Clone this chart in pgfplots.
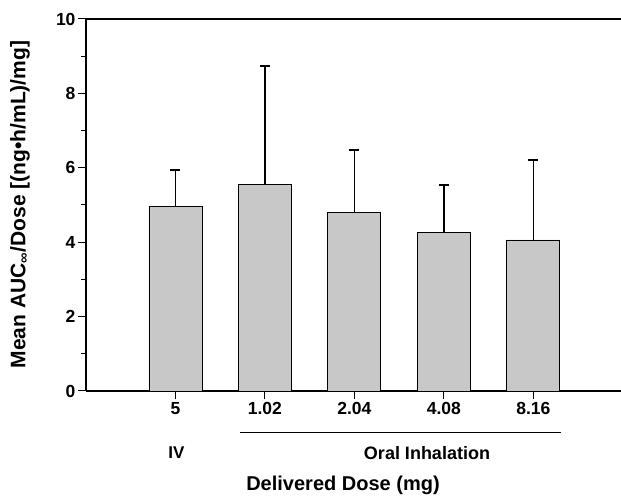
\documentclass[border=0pt]{standalone}
\usepackage{fontspec}
\setmainfont{Liberation Sans}
\usepackage{pgfplots}
\pgfplotsset{compat=1.18}
\definecolor{bargray}{RGB}{200,200,200}
\begin{document}
\begin{tikzpicture}[x=1pt,y=1pt]
\useasboundingbox (-86,-106) rectangle (535,391);
\begin{axis}[
  at={(0,0)}, anchor=south west,
  scale only axis, width=535pt, height=372pt,
  xmin=-1, xmax=4.98, ymin=0, ymax=10,
  axis x line*=box, axis y line*=left,
  xtick={0,1,2,3,4}, xticklabels={5,1.02,2.04,4.08,8.16},
  ytick={0,2,4,6,8,10}, minor ytick={1,3,5,7,9},
  tick align=outside, xtick pos=left, ytick pos=left,
  major tick length=8pt, minor tick length=5pt,
  tick style={black, line width=1pt},
  axis line style={line width=1.2pt},
  /pgf/number format/assume math mode=true,
  tick label style={font=\bfseries\fontsize{17.5}{17.5}\selectfont},
  yticklabel style={xshift=1pt},
  ybar, bar width=53pt,
]
\addplot[fill=bargray, draw=black, line width=0.8pt,
  error bars/.cd, y dir=plus, y explicit,
  error bar style={line width=1.5pt},
  error mark options={rotate=90, mark size=5pt, line width=2pt}]
  coordinates {
  (0,4.96) +- (0,0.98)
  (1,5.56) +- (0,3.18)
  (2,4.81) +- (0,1.67)
  (3,4.27) +- (0,1.26)
  (4,4.06) +- (0,2.15)
  };
\end{axis}
\draw[line width=0.8pt] (154,-41) -- (475,-41);
\node[font=\bfseries\fontsize{17}{17}\selectfont] at (90.5,-62) {IV};
\node[font=\bfseries\fontsize{18}{18}\selectfont] at (341,-62) {Oral Inhalation};
\node[font=\bfseries\fontsize{20}{20}\selectfont] at (257,-94) {Delivered Dose (mg)};
\node[rotate=90, font=\bfseries\fontsize{21}{21}\selectfont] at (-66,186.5) {Mean AUC\textsubscript{∞}/Dose [(ng•h/mL)/mg]};
\end{tikzpicture}
\end{document}
